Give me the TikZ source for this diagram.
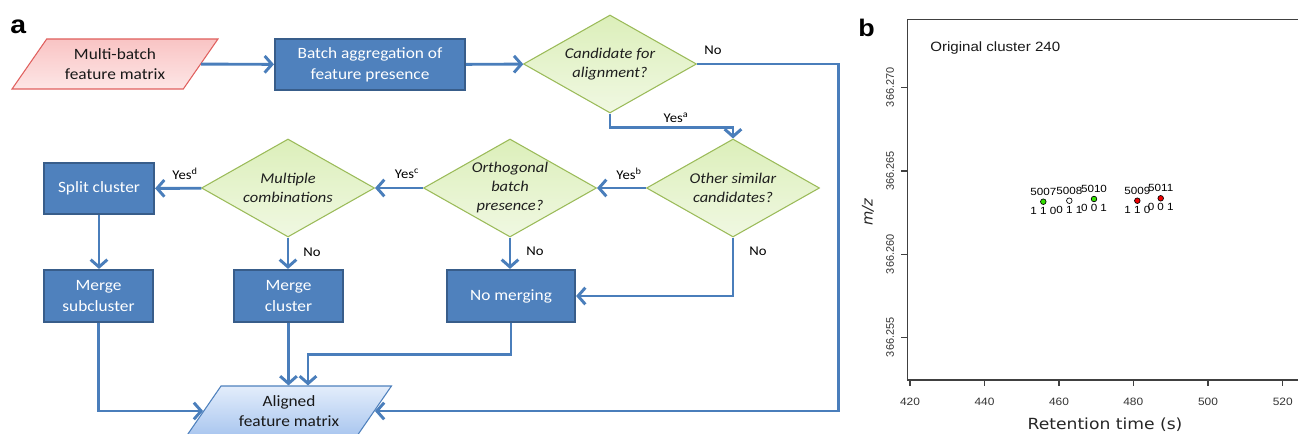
\documentclass[tikz,border=0pt]{standalone}
\usepackage{fontspec}
\setmainfont{Carlito}[FakeStretch=1.1]
\newfontfamily\plotfont{Liberation Sans}[FakeStretch=1.12]
\newfontfamily\plotfontn{Liberation Sans}
\newfontfamily\axfont{DejaVu Sans}[FakeStretch=1.12]
\newfontfamily\axfontn{DejaVu Sans}
\usetikzlibrary{shapes.geometric,arrows.meta,calc}
\definecolor{boxblue}{HTML}{4F81BD}
\definecolor{boxedge}{HTML}{385D8A}
\definecolor{arrowblue}{HTML}{4A7EBB}
\definecolor{dtop}{HTML}{DCEFBA}
\definecolor{dbot}{HTML}{F0F8E2}
\definecolor{dedge}{HTML}{9BBB59}
\definecolor{rtop}{HTML}{F9C4C4}
\definecolor{rbot}{HTML}{FDE6E6}
\definecolor{redge}{HTML}{E0605E}
\definecolor{btop}{HTML}{E3EDFB}
\definecolor{bbot}{HTML}{A9C6EF}
\definecolor{bedge}{HTML}{4F81BD}
\definecolor{ptgreen}{HTML}{33E000}
\definecolor{ptred}{HTML}{F00000}
\begin{document}
\begin{tikzpicture}[x=0.75pt,y=-0.75pt,
  procbox/.style={draw=boxedge, line width=1.6pt, fill=boxblue, text=white,
    font=\fontsize{11.8}{15.5}\selectfont, align=center, inner sep=0pt},
  dia/.style={diamond, draw=dedge, line width=0.8pt, top color=dtop, bottom color=dbot,
    inner sep=0pt, minimum width=129.75pt, minimum height=73.5pt},
  dtext/.style={font=\itshape\fontsize{11.2}{14.25}\selectfont, align=center, text=black!88},
  para/.style={trapezium, trapezium left angle=51.3, trapezium right angle=128.7,
    trapezium stretches=true, minimum width=154.5pt, minimum height=37.5pt,
    inner sep=0pt, line width=0.8pt, align=center, text=black!90,
    font=\fontsize{11.8}{15.5}\selectfont},
  conn/.style={draw=arrowblue, line width=2.2pt,
    -{Straight Barb[length=5.5pt,width=12.5pt]}},
  lab/.style={font=\fontsize{10}{11}\selectfont, text=black},
  frame/.style={draw=black!75, line width=0.9pt},
  xtl/.style={font=\plotfont\fontsize{8}{9}\selectfont, text=black!80},
  ytl/.style={font=\plotfontn\fontsize{8.2}{9}\selectfont, text=black!80, rotate=90},
  pt/.style={circle, draw=black, line width=0.5pt, inner sep=0pt, minimum size=4.2pt},
  ptl/.style={font=\plotfont\fontsize{7.8}{8}\selectfont, text=black, inner sep=0pt}
]
\useasboundingbox (0,0) rectangle (1298,434);
\clip (0,0) rectangle (1298,434);

% panel labels
\node[font=\plotfont\bfseries\fontsize{19}{20}\selectfont] (la) at (18.3,26.7) {a};
\node[font=\plotfont\bfseries\fontsize{18}{20}\selectfont] (lb) at (866.5,28) {b};

% flowchart nodes
\node[para, draw=redge, top color=rtop, bottom color=rbot] (mb) at (115,64) {Multi-batch\\feature matrix};
\node[procbox, minimum width=142.5pt, minimum height=38.25pt] (ba) at (370,64.5) {Batch aggregation of\\feature presence};
\node[dia] (d1) at (610,64) {};
\node[dtext] (d1t) at (610,64) {Candidate for\\alignment?};
\node[dia] (d4) at (733,188) {};
\node[dtext] (d4t) at (733,188) {Other similar\\candidates?};
\node[dia] (d3) at (510,188) {};
\node[dtext] (d3t) at (510,188) {Orthogonal\\batch\\presence?};
\node[dia] (d2) at (288,188) {};
\node[dtext] (d2t) at (288,188) {Multiple\\combinations};
\node[procbox, minimum width=82.5pt, minimum height=38.25pt] (sc) at (99,188.5) {Split cluster};
\node[procbox, minimum width=81.75pt, minimum height=39pt] (msc) at (98.5,296) {Merge\\subcluster};
\node[procbox, minimum width=81.75pt, minimum height=39pt] (mc) at (288.5,296) {Merge\\cluster};
\node[procbox, minimum width=96pt, minimum height=39pt] (nm) at (511,296) {No merging};
\node[para, draw=bedge, top color=btop, bottom color=bbot, minimum width=153.75pt] (al) at (289,411) {Aligned\\feature matrix};

% connectors
\draw[conn] (mb) -- (ba);
\draw[conn] (ba) -- (d1);
\draw[conn] (d1.east) -- ++(141,0) |- (al);
\draw[conn] (d1.south) -- ++(0,14) -| (d4.north);
\draw[conn] (d4) -- (d3);
\draw[conn] (d3) -- (d2);
\draw[conn] (d2) -- (sc);
\draw[conn] (sc.south) -- (sc.south |- msc.north);
\draw[conn] (d2.south) -- (d2.south |- mc.north);
\draw[conn] (d3.south) -- (d3.south |- nm.north);
\draw[conn] (d4.south) |- (nm.east);
\draw[conn] (msc.south) |- (al);
\draw[conn] (mc.south) -- (mc.south |- al.north);
\draw[conn] (nm.south) -- ++(0,31) -| ($(al.north)+(19,0)$);

% connector labels
\node[lab] (lno1) at (713,50) {No};
\node[lab] (lya) at (676,118) {Yes\textsuperscript{a}};
\node[lab] (lyb) at (629,174) {Yes\textsuperscript{b}};
\node[lab] (lyc) at (407,174) {Yes\textsuperscript{c}};
\node[lab] (lyd) at (185,174) {Yes\textsuperscript{d}};
\node[lab] (lno2) at (312,252) {No};
\node[lab] (lno3) at (535,251) {No};
\node[lab] (lno4) at (758,251) {No};

% panel b plot
\draw[frame] (907.7,19.3) rectangle (1340,380);
\foreach \x/\l [count=\i] in {910/420, 984.5/440, 1059/460, 1133.3/480, 1208/500, 1282.7/520} {
  \draw[frame] (\x,380) -- (\x,386);
  \node[xtl] (xt\i) at (\x,401.7) {\l};
}
\foreach \y/\l [count=\i] in {87.3/366.270, 171/366.265, 254.3/366.260, 337.3/366.255} {
  \draw[frame] (907.7,\y) -- (901,\y);
  \node[ytl] (yt\i) at (890,\y) {\l};
}
\node[font=\axfont\fontsize{11.5}{13}\selectfont, text=black!85] (xlab) at (1105,425) {Retention time (s)};
\node[font=\axfontn\itshape\fontsize{11}{12}\selectfont, text=black!85, rotate=90] (ylab) at (868,212.5) {m/z};
\node[font=\plotfont\fontsize{10.1}{12}\selectfont, text=black!90, anchor=west, inner sep=0pt] (title) at (930,48) {Original cluster 240};

% points
\node[pt, fill=ptgreen] (p5007) at (1043.3,201.7) {};
\node[pt, fill=white] (p5008) at (1069.3,200.7) {};
\node[pt, fill=ptgreen] (p5010) at (1094,199) {};
\node[pt, fill=ptred] (p5009) at (1137.3,200.7) {};
\node[pt, fill=ptred] (p5011) at (1160.7,198.3) {};
\node[ptl] (t5007) at (1043.3,191.5) {5007};
\node[ptl] (t5008) at (1069.3,190.5) {5008};
\node[ptl] (t5010) at (1094,188.8) {5010};
\node[ptl] (t5009) at (1137.3,190.5) {5009};
\node[ptl] (t5011) at (1160.7,188.1) {5011};
\node[ptl] (b5007) at (1043.3,210.5) {1 1 0};
\node[ptl] (b5008) at (1069.3,209.5) {0 1 1};
\node[ptl] (b5010) at (1094,207.8) {0 0 1};
\node[ptl] (b5009) at (1137.3,209.5) {1 1 0};
\node[ptl] (b5011) at (1160.7,207.1) {0 0 1};
\end{tikzpicture}
\end{document}
